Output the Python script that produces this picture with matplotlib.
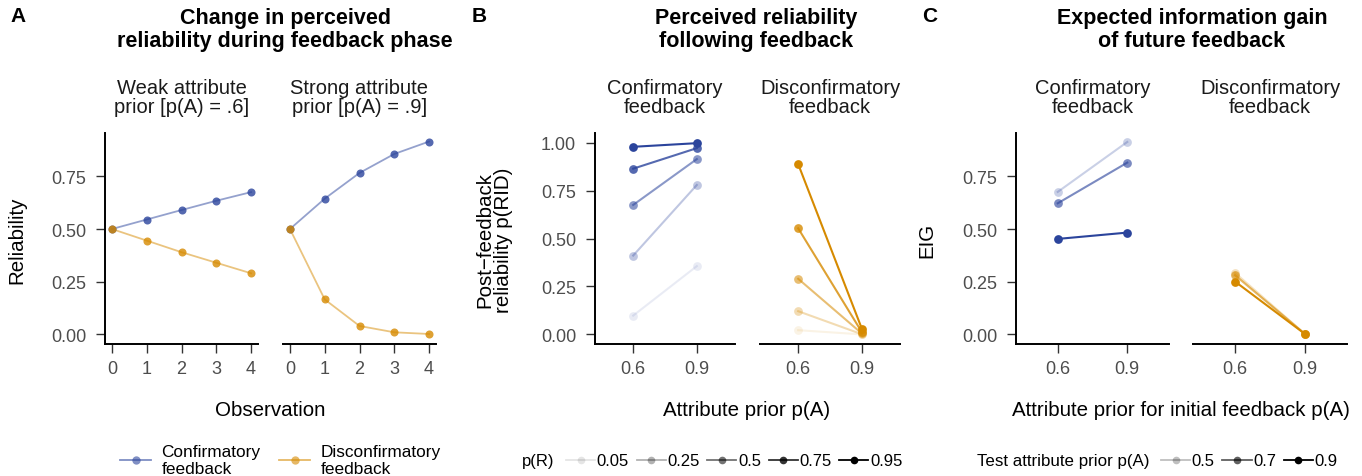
import numpy as np
import matplotlib
matplotlib.use('Agg')
import matplotlib.pyplot as plt
from matplotlib.lines import Line2D

plt.rcParams['font.family'] = ['Liberation Sans', 'DejaVu Sans']

# panel A: reliability over observations
obs = [0, 1, 2, 3, 4]
weak_conf = [0.5, 0.545, 0.59, 0.634, 0.675]
weak_disc = [0.5, 0.445, 0.39, 0.34, 0.29]
strong_conf = [0.5, 0.644, 0.766, 0.856, 0.915]
strong_disc = [0.5, 0.166, 0.04, 0.01, 0.002]

# panel B: post-feedback reliability by p(R)
p_r = [0.05, 0.25, 0.5, 0.75, 0.95]
prior_labels = ['0.6', '0.9']
post_conf_06 = [0.098, 0.411, 0.675, 0.864, 0.978]
post_conf_09 = [0.356, 0.779, 0.914, 0.971, 0.997]
post_disc_06 = [0.022, 0.121, 0.290, 0.553, 0.888]
post_disc_09 = [0.0, 0.001, 0.005, 0.012, 0.03]

# panel C: EIG by test attribute prior
test_prior = [0.5, 0.7, 0.9]
eig_conf_06 = [0.676, 0.622, 0.453]
eig_conf_09 = [0.913, 0.815, 0.483]
eig_disc_06 = [0.292, 0.281, 0.251]
eig_disc_09 = [0.002, 0.002, 0.002]

BLUE = '#2B449C'
ORANGE = '#D68A00'
TICK_COL = '#4D4D4D'
TICK_FS = 13
AXT_FS = 14.8

W, H = 1362, 477
fig = plt.figure(figsize=(W / 100, H / 100), dpi=100)


def add_ax(x0, x1, y0=134, y1=345, left=True):
    ax = fig.add_axes([x0 / W, 1 - y1 / H, (x1 - x0) / W, (y1 - y0) / H])
    for s in ['top', 'right']:
        ax.spines[s].set_visible(False)
    ax.spines['bottom'].set_linewidth(1.4)
    ax.spines['left'].set_linewidth(1.4)
    ax.tick_params(axis='both', length=6.5, width=1.0, color='#333333',
                   labelsize=TICK_FS, labelcolor=TICK_COL)
    ax.tick_params(axis='x', pad=5)
    ax.tick_params(axis='y', pad=7)
    if not left:
        ax.spines['left'].set_visible(False)
        ax.tick_params(axis='y', left=False, labelleft=False)
    return ax


def strip(ax, text):
    ax.text(0.5, 1.0 + 36 / 211, text, transform=ax.transAxes, ha='center',
            va='center', fontsize=14.5, color='#1a1a1a', linespacing=1.05)


def ylab(x, text):
    fig.text(x / W, 1 - 240 / H, text, rotation=90, ha='center', va='center',
             fontsize=AXT_FS, linespacing=1.0)


# ---------- panel A ----------
a1 = add_ax(105, 258)
a2 = add_ax(283, 436, left=False)
for ax, conf, disc, lab in [(a1, weak_conf, weak_disc, 'Weak attribute\nprior [p(A) = .6]'),
                            (a2, strong_conf, strong_disc, 'Strong attribute\nprior [p(A) = .9]')]:
    ax.plot(obs, conf, color=BLUE, alpha=0.5, lw=1.3, zorder=2)
    ax.plot(obs, conf, 'o', color=BLUE, alpha=0.8, ms=5.8, mec='none', zorder=3)
    ax.plot(obs, disc, color=ORANGE, alpha=0.5, lw=1.3, zorder=2)
    ax.plot(obs, disc, 'o', color=ORANGE, alpha=0.8, ms=5.8, mec='none', zorder=3)
    ax.set_xlim(-0.2, 4.2)
    ax.set_ylim(-0.0455, 0.9555)
    ax.set_xticks(obs)
    ax.set_yticks([0, 0.25, 0.5, 0.75])
    ax.set_yticklabels(['0.00', '0.25', '0.50', '0.75'])
    strip(ax, lab)
ylab(17, 'Reliability')
fig.text(270 / W, 1 - 411 / H, 'Observation', ha='center', va='center', fontsize=AXT_FS)


# ---------- panel B ----------
def alpha_b(p):
    return 0.1 + 0.9 * (p - 0.05) / 0.9


b1 = add_ax(595, 735)
b2 = add_ax(760, 900, left=False)
for ax, v06, v09, col, lab in [(b1, post_conf_06, post_conf_09, BLUE, 'Confirmatory\nfeedback'),
                               (b2, post_disc_06, post_disc_09, ORANGE, 'Disconfirmatory\nfeedback')]:
    for i, p in enumerate(p_r):
        a = alpha_b(p)
        ax.plot([0, 1], [v06[i], v09[i]], color=col, alpha=a, lw=1.5, zorder=2)
        ax.plot([0, 1], [v06[i], v09[i]], 'o', color=col, alpha=a, ms=6.3, mec='none', zorder=3)
    ax.set_xlim(-0.6, 1.6)
    ax.set_ylim(-0.05, 1.05)
    ax.set_xticks([0, 1])
    ax.set_xticklabels(prior_labels)
    ax.set_yticks([0, 0.25, 0.5, 0.75, 1.0])
    ax.set_yticklabels(['0.00', '0.25', '0.50', '0.75', '1.00'])
    strip(ax, lab)
ylab(494, 'Post\u2212feedback\nreliability p(RID)')
fig.text(747 / W, 1 - 411 / H, 'Attribute prior p(A)', ha='center', va='center', fontsize=AXT_FS)


# ---------- panel C ----------
def alpha_c(p):
    return 0.25 + 0.75 * (p - 0.5) / 0.4


c1 = add_ax(1016, 1169)
c2 = add_ax(1193, 1347, left=False)
for ax, v06, v09, col, lab in [(c1, eig_conf_06, eig_conf_09, BLUE, 'Confirmatory\nfeedback'),
                               (c2, eig_disc_06, eig_disc_09, ORANGE, 'Disconfirmatory\nfeedback')]:
    for i, p in enumerate(test_prior):
        a = alpha_c(p)
        ax.plot([0, 1], [v06[i], v09[i]], color=col, alpha=a, lw=1.5, zorder=2)
        ax.plot([0, 1], [v06[i], v09[i]], 'o', color=col, alpha=a, ms=6.3, mec='none', zorder=3)
    ax.set_xlim(-0.6, 1.6)
    ax.set_ylim(-0.0455, 0.9555)
    ax.set_xticks([0, 1])
    ax.set_xticklabels(prior_labels)
    ax.set_yticks([0, 0.25, 0.5, 0.75])
    ax.set_yticklabels(['0.00', '0.25', '0.50', '0.75'])
    strip(ax, lab)
ylab(927, 'EIG')
fig.text(1181 / W, 1 - 411 / H, 'Attribute prior for initial feedback p(A)', ha='center',
         va='center', fontsize=AXT_FS)

# ---------- titles ----------
for x, title in [(285, 'Change in perceived\nreliability during feedback phase'),
                 (756, 'Perceived reliability\nfollowing feedback'),
                 (1192, 'Expected information gain\nof future feedback')]:
    fig.text(x / W, 1 - 30 / H, title, ha='center', va='center', fontsize=15.5,
             fontweight='bold', linespacing=1.18)
lx = {'A': 10, 'B': 472, 'C': 922}
for k, v in lx.items():
    fig.text(v / W, 1 - 17 / H, k, ha='left', va='center', fontsize=15, fontweight='bold')

# ---------- legends ----------
hA = [Line2D([], [], color=BLUE, lw=1.3, alpha=0.6, marker='o', ms=6, mfc=BLUE, mec='none'),
      Line2D([], [], color=ORANGE, lw=1.3, alpha=0.6, marker='o', ms=6, mfc=ORANGE, mec='none')]
fig.legend(hA, ['Confirmatory\nfeedback', 'Disconfirmatory\nfeedback'], loc='center left',
           bbox_to_anchor=(120 / W, 1 - 461 / H), ncol=2, frameon=False, fontsize=12.4,
           handlelength=1.8, handletextpad=0.6, columnspacing=1.1, borderpad=0,
           borderaxespad=0)

hB = [Line2D([], [], color='black', alpha=alpha_b(p), lw=1.3, marker='o', ms=5.5, mec='none')
      for p in p_r]
fig.text(522 / W, 1 - 462 / H, 'p(R)', ha='left', va='center', fontsize=12)
fig.legend(hB, ['0.05', '0.25', '0.5', '0.75', '0.95'], loc='center left',
           bbox_to_anchor=(566 / W, 1 - 462 / H), ncol=5, frameon=False, fontsize=12,
           handlelength=1.75, handletextpad=0.1, columnspacing=0.45, borderpad=0,
           borderaxespad=0)

hC = [Line2D([], [], color='black', alpha=alpha_c(p), lw=1.3, marker='o', ms=5.5, mec='none')
      for p in test_prior]
fig.text(977 / W, 1 - 462 / H, 'Test attribute prior p(A)', ha='left', va='center', fontsize=12.2)
fig.legend(hC, ['0.5', '0.7', '0.9'], loc='center left',
           bbox_to_anchor=(1161 / W, 1 - 462 / H), ncol=3, frameon=False, fontsize=12,
           handlelength=1.75, handletextpad=0.1, columnspacing=0.45, borderpad=0,
           borderaxespad=0)

fig.savefig('out.png', dpi=100)
